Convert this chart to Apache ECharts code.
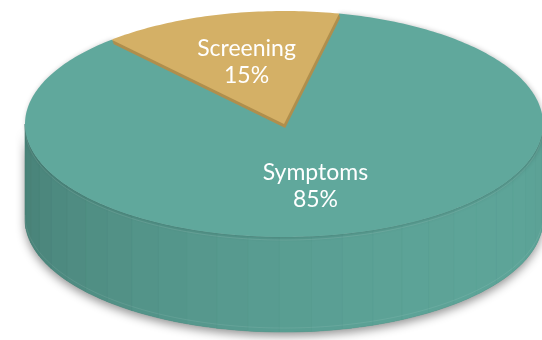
<!DOCTYPE html>
<html>
<head>
<meta charset="utf-8">
<script src="https://cdn.jsdelivr.net/npm/echarts@6/dist/echarts.min.js"></script>
<style>
  html, body { margin: 0; padding: 0; background: #ffffff; }
  #chart { width: 542px; height: 340px; }
</style>
</head>
<body>
<div id="chart"></div>
<script>
// Where people's cancers were first detected
const categories = ['Symptoms', 'Screening'];
const shares = [85, 15];

const total = shares.reduce((a, b) => a + b, 0);

// Layout of the tilted disc (pixels)
const START = 12.3;            // first slice begins here, degrees clockwise from 12 o'clock
const CX = 284, CY = 124;      // centre of the top face
const RX = 259, RY = 113;      // radii of the top face ellipse
const DEPTH = [95, 4];         // visible thickness of each slice
const TOP_COLORS = ['#60a89c', '#d4b066'];
const RIM_COLORS = ['#4f8f85', '#b08f4d'];
const LABEL_RADIUS = 0.57;

function pt(a, dx, dy) {
  const r = a * Math.PI / 180;
  return [CX + (dx || 0) + RX * Math.sin(r), CY + (dy || 0) - RY * Math.cos(r)];
}
function arc(a0, a1, dx, dy) {
  const n = Math.max(2, Math.ceil(Math.abs(a1 - a0)));
  const out = [];
  for (let k = 0; k <= n; k++) out.push(pt(a0 + (a1 - a0) * k / n, dx, dy));
  return out;
}
function hex(c) { return [1, 3, 5].map(i => parseInt(c.slice(i, i + 2), 16)); }
function mix(c1, c2, t) {
  const a = hex(c1), b = hex(c2);
  return 'rgb(' + a.map((v, i) => Math.round(v + (b[i] - v) * t)).join(',') + ')';
}
// front-facing part of [a0, a1]: the half of the rim between 90° and 270°
function frontRanges(a0, a1) {
  const out = [];
  [[90, 270], [450, 630], [-270, -90]].forEach(([lo, hi]) => {
    const s = Math.max(a0, lo), e = Math.min(a1, hi);
    if (e > s) out.push([s, e]);
  });
  return out;
}

function renderItem(params, api) {
  const i = params.dataIndex;
  const v = api.value(0);
  let before = 0;
  for (let k = 0; k < i; k++) before += shares[k];
  const a0 = START + before / total * 360;
  const a1 = a0 + v / total * 360;
  const depth = DEPTH[i];
  const children = [];
  const sector = (dx, dy) => [[CX + dx, CY + dy]].concat(arc(a0, a1, dx, dy));

  if (depth > 10) {
    // curved outer wall, shaded facet by facet
    frontRanges(a0, a1).forEach(([s, e]) => {
      const top = arc(s, e, 0, 0);
      const bot = arc(s, e, 0, depth).reverse();
      children.push({
        type: 'polygon',
        shape: { points: top.concat(bot) },
        style: {
          fill: '#457b72',
          shadowBlur: 10, shadowOffsetY: 4, shadowColor: 'rgba(0,0,0,0.42)'
        }
      });
      const step = 7;
      for (let a = s; a < e; a += step) {
        const b = Math.min(e, a + step);
        const m = (a + b) / 2;
        const lit = (Math.cos((m - 128) * Math.PI / 180) + 1) / 2;
        const shade = mix('#437970', '#5da498', Math.pow(lit, 0.8));
        const p = arc(a, b, 0, 0).concat(arc(a, b, 0, depth).reverse());
        children.push({
          type: 'polygon',
          shape: { points: p },
          style: { fill: shade, stroke: shade, lineWidth: 0.6 }
        });
      }
      // soft highlight along the upper and lower edge of the wall
      children.push({
        type: 'polyline',
        shape: { points: arc(s, e, 0, 3) },
        style: { stroke: 'rgba(255,255,255,0.10)', lineWidth: 1, fill: null }
      });
      children.push({
        type: 'polyline',
        shape: { points: arc(s, e, 0, depth - 4) },
        style: { stroke: 'rgba(255,255,255,0.08)', lineWidth: 1, fill: null }
      });
    });
  } else {
    // thin slab under the slice
    for (let k = depth; k >= 1; k--) {
      children.push({
        type: 'polygon',
        shape: { points: sector(k * 0.3, k) },
        style: { fill: RIM_COLORS[i] }
      });
    }
  }

  children.push({
    type: 'polygon',
    shape: { points: sector(0, 0) },
    style: {
      fill: TOP_COLORS[i],
      shadowBlur: depth > 10 ? 5 : 0,
      shadowOffsetX: depth > 10 ? 1 : 0,
      shadowColor: 'rgba(0,0,0,0.22)'
    }
  });

  const mid = (a0 + a1) / 2 * Math.PI / 180;
  children.push({
    type: 'text',
    style: {
      text: api.value(1) + '\n' + v + '%',
      x: CX + LABEL_RADIUS * RX * Math.sin(mid) - (depth > 10 ? 6 : 0),
      y: CY - LABEL_RADIUS * RY * Math.cos(mid),
      fill: '#ffffff',
      fontFamily: 'Lato',
      fontSize: 23,
      lineHeight: 27,
      align: 'center',
      verticalAlign: 'middle'
    }
  });

  return { type: 'group', children: children };
}

const chart = echarts.init(document.getElementById('chart'), null, { renderer: 'canvas' });
chart.setOption({
  backgroundColor: '#ffffff',
  animation: false,
  series: [{
    type: 'custom',
    coordinateSystem: 'none',
    renderItem: renderItem,
    data: categories.map((c, i) => [shares[i], c])
  }]
});
</script>
</body>
</html>
